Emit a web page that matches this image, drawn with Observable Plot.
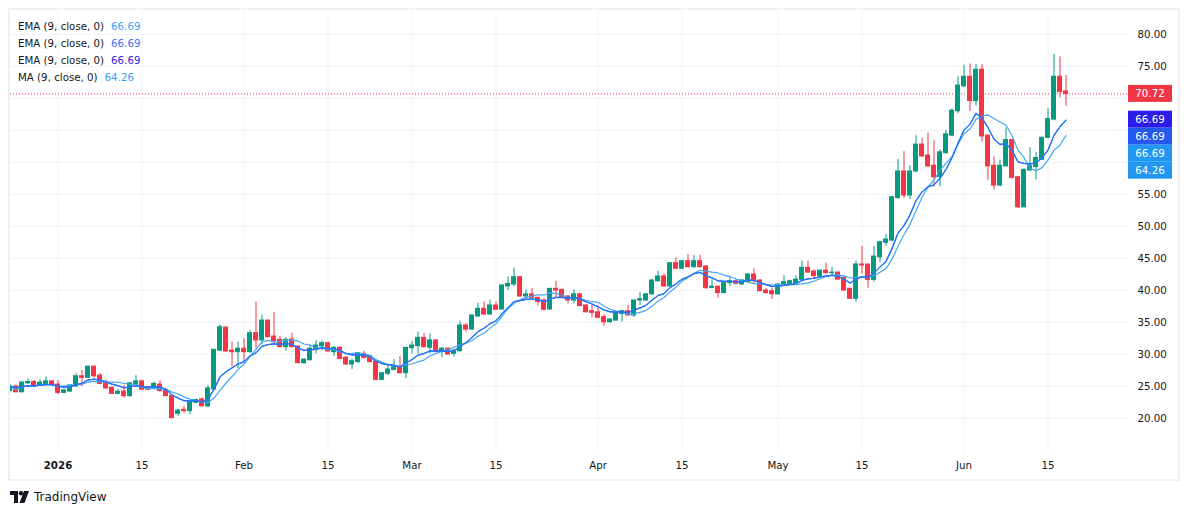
<!DOCTYPE html>
<html>
<head>
<meta charset="utf-8">
<script src="https://cdn.jsdelivr.net/npm/d3@7"></script>
<script src="https://cdn.jsdelivr.net/npm/@observablehq/plot@0.6"></script>
<style>
  html, body { margin: 0; padding: 0; background: #ffffff; }
  #wrap { position: relative; width: 1190px; height: 515px; overflow: hidden; font-family: 'DejaVu Sans', sans-serif; color: #131722; }
  #frame { position: absolute; left: 8px; top: 8px; width: 1172px; height: 473px; border: 2px solid #EDF0F5; box-sizing: border-box; pointer-events: none; }
  #legend { position: absolute; left: 18px; top: 18px; font-size: 10.25px; line-height: 17px; }
  #legend .row { white-space: nowrap; height: 17px; }
  #legend .val { margin-left: 7px; }
  #logo { position: absolute; left: 10px; top: 490px; display: flex; align-items: center; font-size: 12px; color: #131722; }
  #logo svg { margin-right: 5px; }
  #chart { position: absolute; left: 0; top: 0; }
</style>
</head>
<body>
<div id="wrap">
  <div id="chart"></div>
  <div id="frame"></div>
  <div id="legend"></div>
  <div id="logo">
    <svg width="19" height="12" viewBox="0 0 19 12"><path d="M0 0H8V12H4V4H0Z" fill="#131722"/><circle cx="11" cy="2.2" r="2.2" fill="#131722"/><path d="M14 0H19L14.5 12H9.5Z" fill="#131722"/></svg>
    <span>TradingView</span>
  </div>
</div>
<script>
// ---------- data (daily candles, 2025-12-24 .. 2026-06-18) ----------
const firstDay = "2025-12-24";
const lastDay = "2026-06-18";

const opens = [
  24.3, 25.0, 24.1, 25.5, 25.7, 25.1, 25.4, 25.8,
  25.3, 24.0, 24.2, 25.0, 26.6, 26.35, 28.1, 26.7, 25.5, 24.8, 23.85, 24.2, 23.5, 25.3, 25.8, 24.9, 24.8, 25.3, 24.4, 23.54, 20.73, 21.35, 21.15, 22.45, 23.0, 21.9, 24.53, 30.6, 34.2, 30.6, 30.36,
  30.9, 30.36, 33.33, 32.2, 35.3, 32.8, 32.3, 31.15, 32.35, 31.25, 28.65, 29.1, 30.7, 31.25, 31.77, 30.36, 31.04, 29.5, 28.44, 28.8, 30.1, 29.74, 28.9, 26.04, 26.98, 27.6, 28.02, 27.08,
  31.0, 31.3, 32.6, 31.04, 32.2, 30.4, 30.9, 30.1, 30.5, 34.53, 33.9, 35.94, 37.14, 36.25, 37.66, 37.03, 40.63, 40.94, 42.08, 39.06, 39.4, 38.85, 38.44, 37.03, 40.26, 40.1, 39.06, 38.44, 39.4, 37.66, 36.77,
  36.6, 35.83, 35.05, 35.3, 36.35, 36.77, 36.1, 38.44, 38.44, 39.4, 41.45, 42.19, 40.63, 44.27, 43.4, 44.58, 43.65, 44.58, 43.75, 40.4, 40.6, 39.6, 41.15, 41.45, 40.94, 41.3, 42.5, 41.56, 40.0, 39.9,
  39.4, 40.94, 41.04, 41.15, 41.66, 43.54, 42.97, 42.24, 43.1, 42.7, 42.8, 41.98, 40.26, 38.7, 44.06, 44.06, 41.66, 45.2, 47.45, 47.8, 54.43, 58.6, 54.84, 58.6, 62.8, 61.1, 59.5, 57.7, 61.46, 64.2, 68.0,
  71.9, 73.4, 69.6, 74.5, 64.2, 59.5, 56.4, 59.4, 63.5, 57.7, 53.0, 58.75, 59.3, 60.4, 63.85, 66.7, 73.4, 71.1
];
const highs = [
  25.3, 25.2, 25.8, 26.2, 26.0, 26.1, 26.5, 25.9,
  25.9, 24.6, 25.3, 27.0, 27.5, 28.2, 28.2, 27.0, 26.0, 24.9, 24.5, 25.2, 25.6, 26.7, 26.0, 25.0, 25.7, 25.9, 24.5, 23.6, 21.5, 21.9, 22.8, 23.0, 23.2, 25.15, 30.8, 34.6, 34.3, 31.93, 31.9,
  32.45, 33.75, 38.2, 36.1, 35.4, 36.6, 32.8, 32.6, 33.3, 31.4, 29.3, 31.4, 32.2, 32.1, 31.9, 31.25, 31.15, 29.7, 29.3, 30.3, 30.5, 29.9, 29.0, 27.2, 28.3, 29.2, 29.69, 31.1,
  32.0, 33.5, 33.3, 33.2, 32.3, 31.1, 31.0, 30.85, 35.2, 34.8, 36.2, 38.0, 38.2, 38.5, 38.2, 40.9, 42.1, 43.5, 42.2, 40.1, 40.3, 38.95, 38.7, 40.3, 41.45, 40.2, 39.2, 40.1, 39.5, 37.8, 37.66,
  37.6, 36.25, 35.6, 36.6, 36.9, 37.66, 38.5, 39.7, 39.6, 41.7, 43.0, 42.6, 44.4, 45.1, 44.7, 45.6, 45.5, 45.5, 43.9, 41.7, 40.7, 41.3, 42.0, 41.7, 41.7, 42.6, 43.4, 41.7, 40.3, 40.4,
  41.0, 42.3, 41.6, 42.3, 44.6, 44.6, 43.2, 43.2, 44.27, 43.6, 42.9, 42.1, 40.4, 44.6, 46.9, 44.1, 46.9, 47.7, 48.75, 54.7, 60.5, 61.7, 59.5, 64.2, 63.8, 64.6, 63.4, 61.98, 65.0, 68.4, 73.4,
  75.2, 75.4, 75.3, 75.3, 64.3, 60.9, 60.4, 65.4, 63.6, 57.8, 59.0, 62.3, 61.6, 64.0, 68.4, 76.9, 76.5, 73.6
];
const lows = [
  24.0, 24.0, 24.0, 25.3, 24.9, 25.0, 25.3, 25.1,
  23.75, 23.9, 24.1, 24.9, 25.0, 26.2, 26.3, 25.3, 24.6, 23.8, 23.7, 23.2, 23.3, 25.2, 24.4, 24.3, 24.6, 24.1, 23.4, 20.0, 20.3, 20.8, 20.6, 22.3, 21.8, 21.7, 24.4, 30.5, 30.3, 28.1, 27.8,
  28.65, 30.2, 30.9, 31.5, 32.6, 31.4, 31.0, 30.5, 31.0, 28.55, 28.45, 29.0, 30.1, 30.6, 30.36, 29.7, 29.15, 28.3, 27.65, 28.6, 29.3, 28.7, 25.9, 25.85, 26.7, 27.4, 26.9, 26.2,
  30.1, 30.0, 31.0, 30.1, 30.3, 29.5, 29.9, 29.6, 30.4, 33.5, 33.8, 35.8, 36.1, 36.1, 36.9, 36.9, 40.0, 40.6, 38.95, 38.5, 38.7, 37.6, 36.8, 36.9, 38.85, 38.75, 37.9, 37.9, 37.5, 36.5, 35.7,
  35.6, 34.4, 34.9, 35.2, 35.05, 36.0, 35.8, 37.66, 38.3, 39.3, 41.3, 40.5, 40.5, 43.3, 43.3, 43.5, 43.5, 43.5, 40.2, 40.3, 38.8, 39.5, 40.6, 40.9, 40.8, 41.2, 41.04, 39.8, 39.4, 38.6,
  39.3, 40.8, 40.9, 40.95, 41.6, 42.7, 41.8, 42.1, 42.6, 42.2, 41.6, 39.9, 38.6, 38.2, 42.6, 40.36, 41.3, 44.4, 46.9, 47.6, 54.3, 54.4, 54.2, 58.4, 60.8, 59.2, 56.15, 56.2, 61.3, 64.0, 67.6,
  71.7, 68.0, 68.8, 63.2, 57.2, 55.7, 56.2, 59.3, 57.4, 52.8, 52.9, 58.6, 57.3, 60.3, 63.7, 66.5, 70.1, 68.75
];
const closes = [
  25.0, 24.1, 25.6, 25.7, 25.0, 25.6, 25.8, 25.2,
  24.0, 24.4, 25.16, 26.6, 26.35, 28.1, 26.6, 25.4, 24.7, 23.85, 24.2, 23.5, 25.5, 25.8, 24.5, 24.5, 25.4, 24.3, 23.5, 20.05, 21.25, 21.15, 22.55, 22.9, 21.9, 24.7, 30.73, 34.27, 30.47, 30.36, 30.9,
  30.36, 33.33, 32.2, 35.3, 32.7, 32.1, 31.15, 32.3, 31.15, 28.65, 29.2, 30.9, 31.4, 31.77, 30.47, 31.04, 29.3, 28.44, 28.96, 30.2, 29.48, 28.8, 26.04, 27.08, 27.66, 28.02, 27.08, 31.04,
  31.4, 32.6, 31.15, 32.2, 30.4, 30.9, 30.0, 30.6, 34.53, 33.9, 36.1, 37.14, 36.25, 37.66, 36.98, 40.78, 41.04, 42.08, 39.06, 39.4, 38.85, 38.2, 36.98, 40.26, 40.0, 38.85, 38.44, 39.4, 37.55, 36.6, 36.5,
  35.73, 35.05, 35.47, 36.46, 36.77, 36.1, 38.44, 38.65, 39.4, 41.56, 42.19, 40.63, 44.27, 43.4, 44.58, 43.65, 44.58, 43.65, 40.36, 40.6, 39.6, 41.15, 41.45, 41.04, 41.56, 42.5, 41.45, 39.9, 39.6, 39.4,
  40.94, 41.3, 41.45, 41.7, 43.54, 42.8, 42.24, 43.1, 42.7, 42.8, 41.7, 40.0, 38.7, 44.06, 43.9, 41.66, 45.3, 47.55, 47.97, 54.58, 58.6, 54.84, 58.6, 62.8, 60.94, 59.4, 57.7, 61.6, 64.4, 68.1, 72.03,
  73.4, 69.6, 74.5, 64.06, 59.4, 56.4, 59.5, 63.5, 57.6, 53.0, 58.85, 59.4, 60.7, 63.85, 66.8, 73.4, 71.0, 70.72
];

// axis ticks
const yGridTicks = [20, 25, 30, 35, 40, 45, 50, 55, 60, 65, 70, 75, 80];
const yLabelTicks = [20, 25, 30, 35, 40, 45, 50, 55, 75, 80];   // 60-70 hidden behind the price labels
const xTickDates = ["2026-01-01", "2026-01-15", "2026-02-01", "2026-02-15", "2026-03-01", "2026-03-15",
                    "2026-04-01", "2026-04-15", "2026-05-01", "2026-05-15", "2026-06-01", "2026-06-15"];
const xTickLabels = ["2026", "15", "Feb", "15", "Mar", "15", "Apr", "15", "May", "15", "Jun", "15"];

// indicators (legend)
const indicatorNames = ["EMA (9, close, 0)", "EMA (9, close, 0)", "EMA (9, close, 0)", "MA (9, close, 0)"];
const indicatorValues = [66.69, 66.69, 66.69, 64.26];
const indicatorColors = ["#3BA0F5", "#3F6CF6", "#3323E6", "#3BA0F5"];

// price scale labels (top to bottom)
const lastPrice = 70.72;
const scaleLabelValues = [70.72, 66.69, 66.69, 66.69, 64.26];
const scaleLabelColors = ["#F23645", "#2B1CEB", "#2458F0", "#2196F3", "#2196F3"];

// ---------- view ----------
const UP = "#089981", DOWN = "#F23645";
const FONT = "'DejaVu Sans', sans-serif";
const xDomain = [new Date("2025-12-24T02:00:00Z"), new Date("2026-06-28T06:00:00Z")];
const yDomain = [14.6875, 83.75];

const dates = d3.utcDay.range(new Date(firstDay + "T00:00:00Z"), d3.utcDay.offset(new Date(lastDay + "T00:00:00Z"), 1));
const alpha = 2 / (9 + 1);
let e = closes[0];
const ema = closes.map((c, i) => (e = i ? e + alpha * (c - e) : c));
const data = dates.map((d, i) => ({
  date: d, open: opens[i], high: highs[i], low: lows[i], close: closes[i], ema: ema[i],
  color: closes[i] >= opens[i] ? UP : DOWN
}));

const tickDates = xTickDates.map(s => new Date(s + "T00:00:00Z"));
const labelOf = new Map(tickDates.map((d, i) => [+d, xTickLabels[i]]));

function priceLabels(index, scales, values, dimensions) {
  const g = d3.create("svg:g").attr("font-family", FONT).attr("font-size", "10.25px");
  const x0 = dimensions.width - dimensions.marginRight + 1;
  let prev = -Infinity;
  scaleLabelValues.forEach((v, i) => {
    const cy = Math.max(scales.y(v), prev + 17);
    prev = cy;
    g.append("rect").attr("x", x0).attr("y", cy - 8.5).attr("width", 44).attr("height", 17).attr("fill", scaleLabelColors[i]);
    g.append("text").attr("x", x0 + 22).attr("y", cy).attr("dy", "0.36em").attr("text-anchor", "middle")
      .attr("fill", "#ffffff").text(v.toFixed(2));
  });
  return g.node();
}

const chart = Plot.plot({
  width: 1190,
  height: 515,
  marginLeft: 10,
  marginRight: 63,
  marginTop: 10,
  marginBottom: 63,
  style: { background: "transparent", fontFamily: FONT, fontSize: "10.25px", color: "#131722", overflow: "visible" },
  x: { type: "utc", domain: xDomain, label: null },
  y: { domain: yDomain, label: null },
  color: { type: "identity" },
  marks: [
    Plot.gridY(yGridTicks, { stroke: "#F0F3FA", strokeOpacity: 1 }),
    Plot.gridX(tickDates, { stroke: "#F0F3FA", strokeOpacity: 1 }),
    Plot.axisY(yLabelTicks, { anchor: "right", tickSize: 0, tickPadding: 10, tickFormat: d => d.toFixed(2), fill: "#131722", fontSize: "10.25px", label: null }),
    Plot.axisX([tickDates[0]], { anchor: "bottom", tickSize: 0, tickPadding: 9.5, tickFormat: d => labelOf.get(+d), fontWeight: "bold", fill: "#131722", fontSize: "10.25px", label: null }),
    Plot.axisX(tickDates.slice(1), { anchor: "bottom", tickSize: 0, tickPadding: 9.5, tickFormat: d => labelOf.get(+d), fill: "#131722", fontSize: "10.25px", label: null }),
    Plot.ruleY([lastPrice], { stroke: DOWN, strokeDasharray: "1,2", strokeWidth: 1 }),
    Plot.ruleX(data, { x: "date", y1: "low", y2: "high", stroke: "color", strokeWidth: 1, clip: true }),
    Plot.rect(data, {
      x1: d => d3.utcHour.offset(d.date, -10), x2: d => d3.utcHour.offset(d.date, 10),
      y1: "open", y2: "close", fill: "color", insetTop: -0.5, insetBottom: -0.5, clip: true
    }),
    Plot.lineY(data, Plot.windowY({ k: 9, anchor: "end" }, { x: "date", y: "close", stroke: "#42A5F5", strokeWidth: 1.2, clip: true })),
    Plot.lineY(data, { x: "date", y: "ema", stroke: "#3323E6", strokeWidth: 1, clip: true }),
    Plot.lineY(data, { x: "date", y: "ema", stroke: "#2196F3", strokeWidth: 1.3, clip: true }),
    Plot.lineY(data, { x: "date", y: "ema", stroke: "#2962FF", strokeWidth: 0.9, strokeOpacity: 0.85, clip: true }),
    priceLabels
  ]
});
document.getElementById("chart").appendChild(chart);

// legend
const legend = document.getElementById("legend");
indicatorNames.forEach((n, i) => {
  const row = document.createElement("div");
  row.className = "row";
  const a = document.createElement("span");
  a.textContent = n;
  const b = document.createElement("span");
  b.className = "val";
  b.style.color = indicatorColors[i];
  b.textContent = indicatorValues[i].toFixed(2);
  row.appendChild(a); row.appendChild(b);
  legend.appendChild(row);
});
</script>
</body>
</html>
